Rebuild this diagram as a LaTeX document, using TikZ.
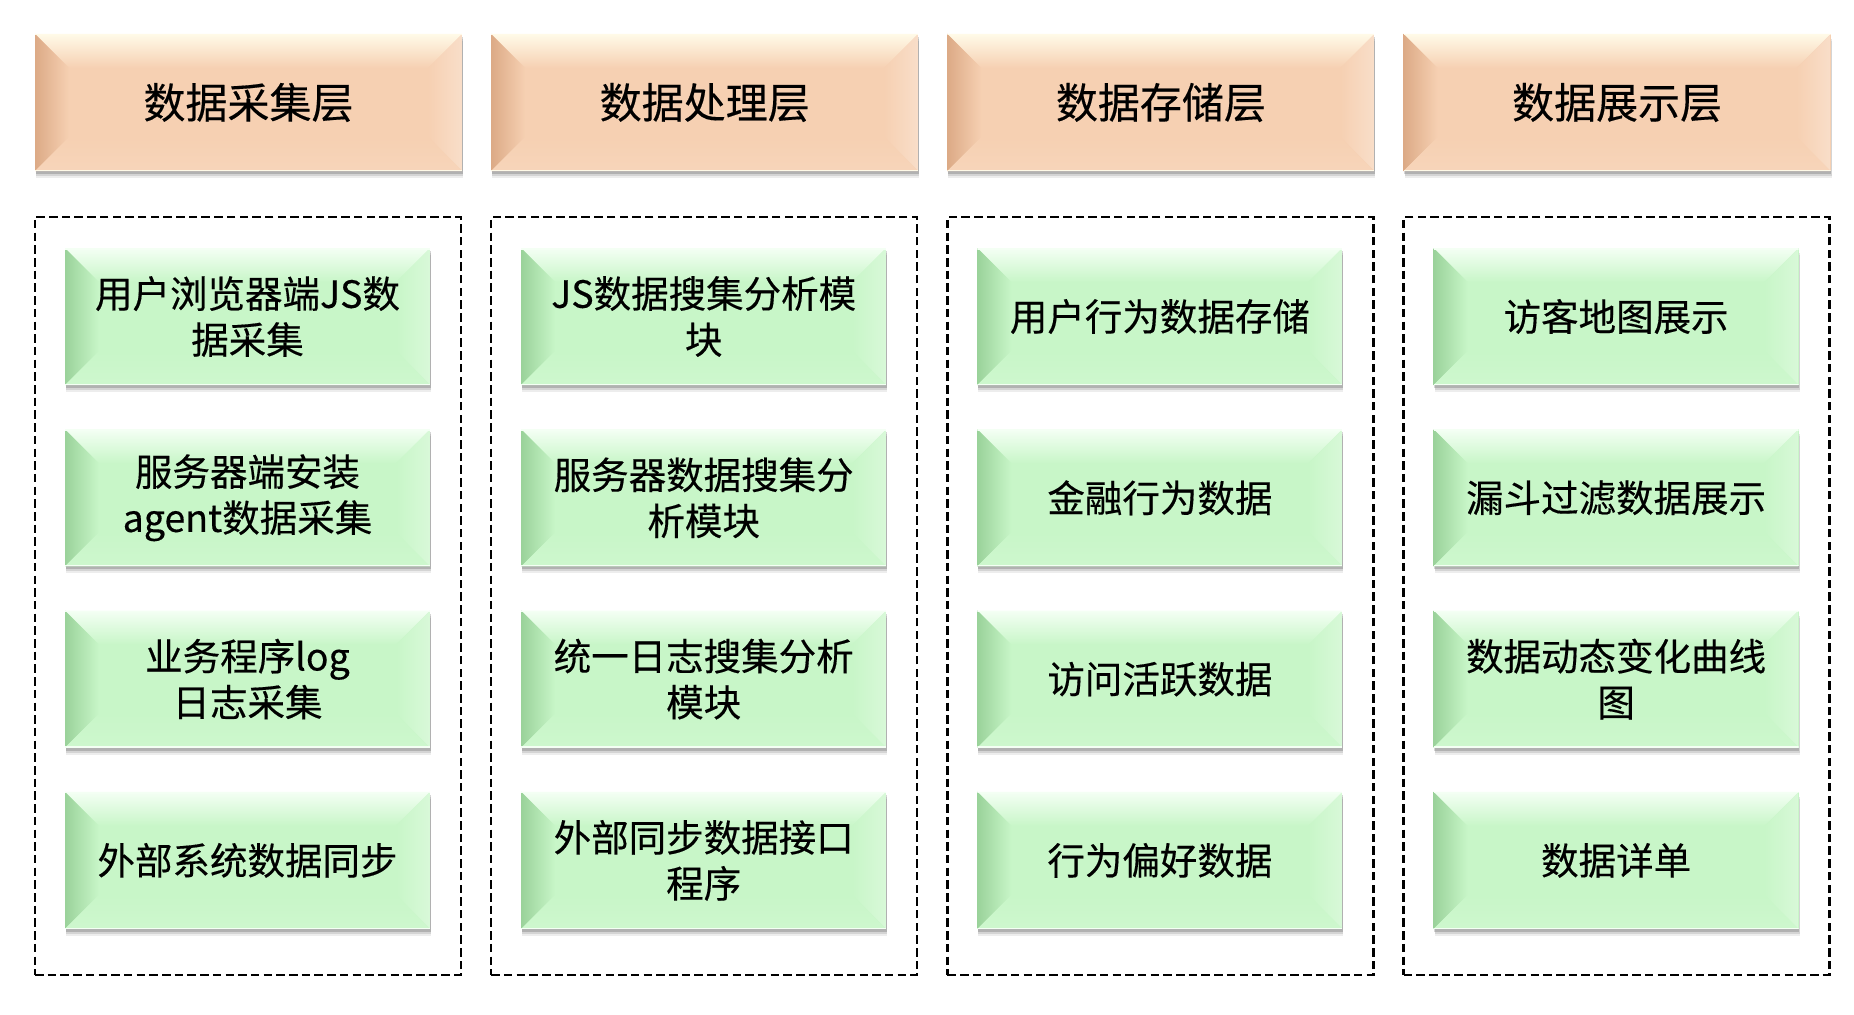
\documentclass[tikz,border=0pt]{standalone}
\usepackage{fontspec}
\setmainfont{Noto Sans CJK SC}[FakeBold=0.35]
\usetikzlibrary{shadows}
\definecolor{hbase}{RGB}{246,208,178}
\definecolor{hdark}{RGB}{220,170,134}
\definecolor{hlight}{RGB}{255,250,232}
\definecolor{gbase}{RGB}{200,246,200}
\definecolor{gdark}{RGB}{154,210,154}
\definecolor{glight}{RGB}{244,255,244}
\newcommand{\bevelpic}[3]{%
  \coordinate (bnw) at (path picture bounding box.north west);
  \coordinate (bne) at (path picture bounding box.north east);
  \coordinate (bsw) at (path picture bounding box.south west);
  \coordinate (bse) at (path picture bounding box.south east);
  \coordinate (inw) at ([shift={(34,34)}]bnw);
  \coordinate (ine) at ([shift={(-34,34)}]bne);
  \coordinate (isw) at ([shift={(34,-34)}]bsw);
  \coordinate (ise) at ([shift={(-34,-34)}]bse);
  \shade[top color=#3, bottom color=#1] (bnw) -- (bne) -- (ine) -- (inw) -- cycle;
  \shade[left color=#2, right color=#1] (bnw) -- (inw) -- (isw) -- (bsw) -- cycle;
  \shade[left color=#1, right color=#1!70!white] (bne) -- (ine) -- (ise) -- (bse) -- cycle;
  \shade[top color=#1, bottom color=#1!90!white] (bsw) -- (isw) -- (ise) -- (bse) -- cycle;
  \fill[#3] (bnw) rectangle ([shift={(0,1.5)}]bne);
  \fill[#3] ([shift={(0,-1.2)}]bsw) rectangle (bse);
}
\tikzset{
  x=1pt, y=-1pt,
  softshadow/.style={
    drop shadow={shadow xshift=1pt, shadow yshift=-7pt, opacity=.07, fill=black},
    drop shadow={shadow xshift=1pt, shadow yshift=-5pt, opacity=.10, fill=black},
    drop shadow={shadow xshift=0.5pt, shadow yshift=-3pt, opacity=.16, fill=black}},
  headbox/.style={softshadow, fill=hbase, inner sep=0pt,
    minimum width=427pt, minimum height=137pt,
    font=\fontsize{42}{50}\selectfont, align=center,
    path picture={\bevelpic{hbase}{hdark}{hlight}}},
  itembox/.style={softshadow, fill=gbase, inner sep=0pt,
    minimum width=365pt, minimum height=137pt,
    font=\fontsize{37.5}{46}\selectfont, align=center,
    path picture={\bevelpic{gbase}{gdark}{glight}}},
  groupbox/.style={draw=black, line width=2.5pt, dash pattern=on 8.5pt off 4.2pt,
    inner sep=0pt, minimum width=426pt, minimum height=758pt}
}
\begin{document}
\begin{tikzpicture}
\useasboundingbox[fill=white] (0,0) rectangle (1854,1014);
% group boxes
\node[groupbox] (g1) at (248,596) {};
\node[groupbox] (g2) at (704.2,596) {};
\node[groupbox] (g3) at (1160.4,596) {};
\node[groupbox] (g4) at (1616.6,596) {};
% headers
\node[headbox] (h1) at (248.5,102.5) {数据采集层};
\node[headbox] (h2) at (704.7,102.5) {数据处理层};
\node[headbox] (h3) at (1160.9,102.5) {数据存储层};
\node[headbox] (h4) at (1617.1,102.5) {数据展示层};
% column 1
\node[itembox] (a1) at (247.5,316.5) {用户浏览器端JS数\\据采集};
\node[itembox] (a2) at (247.5,497.8) {服务器端安装\\agent数据采集};
\node[itembox] (a3) at (247.5,679.1) {业务程序log\\日志采集};
\node[itembox] (a4) at (247.5,860.4) {外部系统数据同步};
% column 2
\node[itembox] (b1) at (703.7,316.5) {JS数据搜集分析模\\块};
\node[itembox] (b2) at (703.7,497.8) {服务器数据搜集分\\析模块};
\node[itembox] (b3) at (703.7,679.1) {统一日志搜集分析\\模块};
\node[itembox] (b4) at (703.7,860.4) {外部同步数据接口\\程序};
% column 3
\node[itembox] (c1) at (1159.9,316.5) {用户行为数据存储};
\node[itembox] (c2) at (1159.9,497.8) {金融行为数据};
\node[itembox] (c3) at (1159.9,679.1) {访问活跃数据};
\node[itembox] (c4) at (1159.9,860.4) {行为偏好数据};
% column 4
\node[itembox] (d1) at (1616.1,316.5) {访客地图展示};
\node[itembox] (d2) at (1616.1,497.8) {漏斗过滤数据展示};
\node[itembox] (d3) at (1616.1,679.1) {数据动态变化曲线\\图};
\node[itembox] (d4) at (1616.1,860.4) {数据详单};
\end{tikzpicture}
\end{document}
